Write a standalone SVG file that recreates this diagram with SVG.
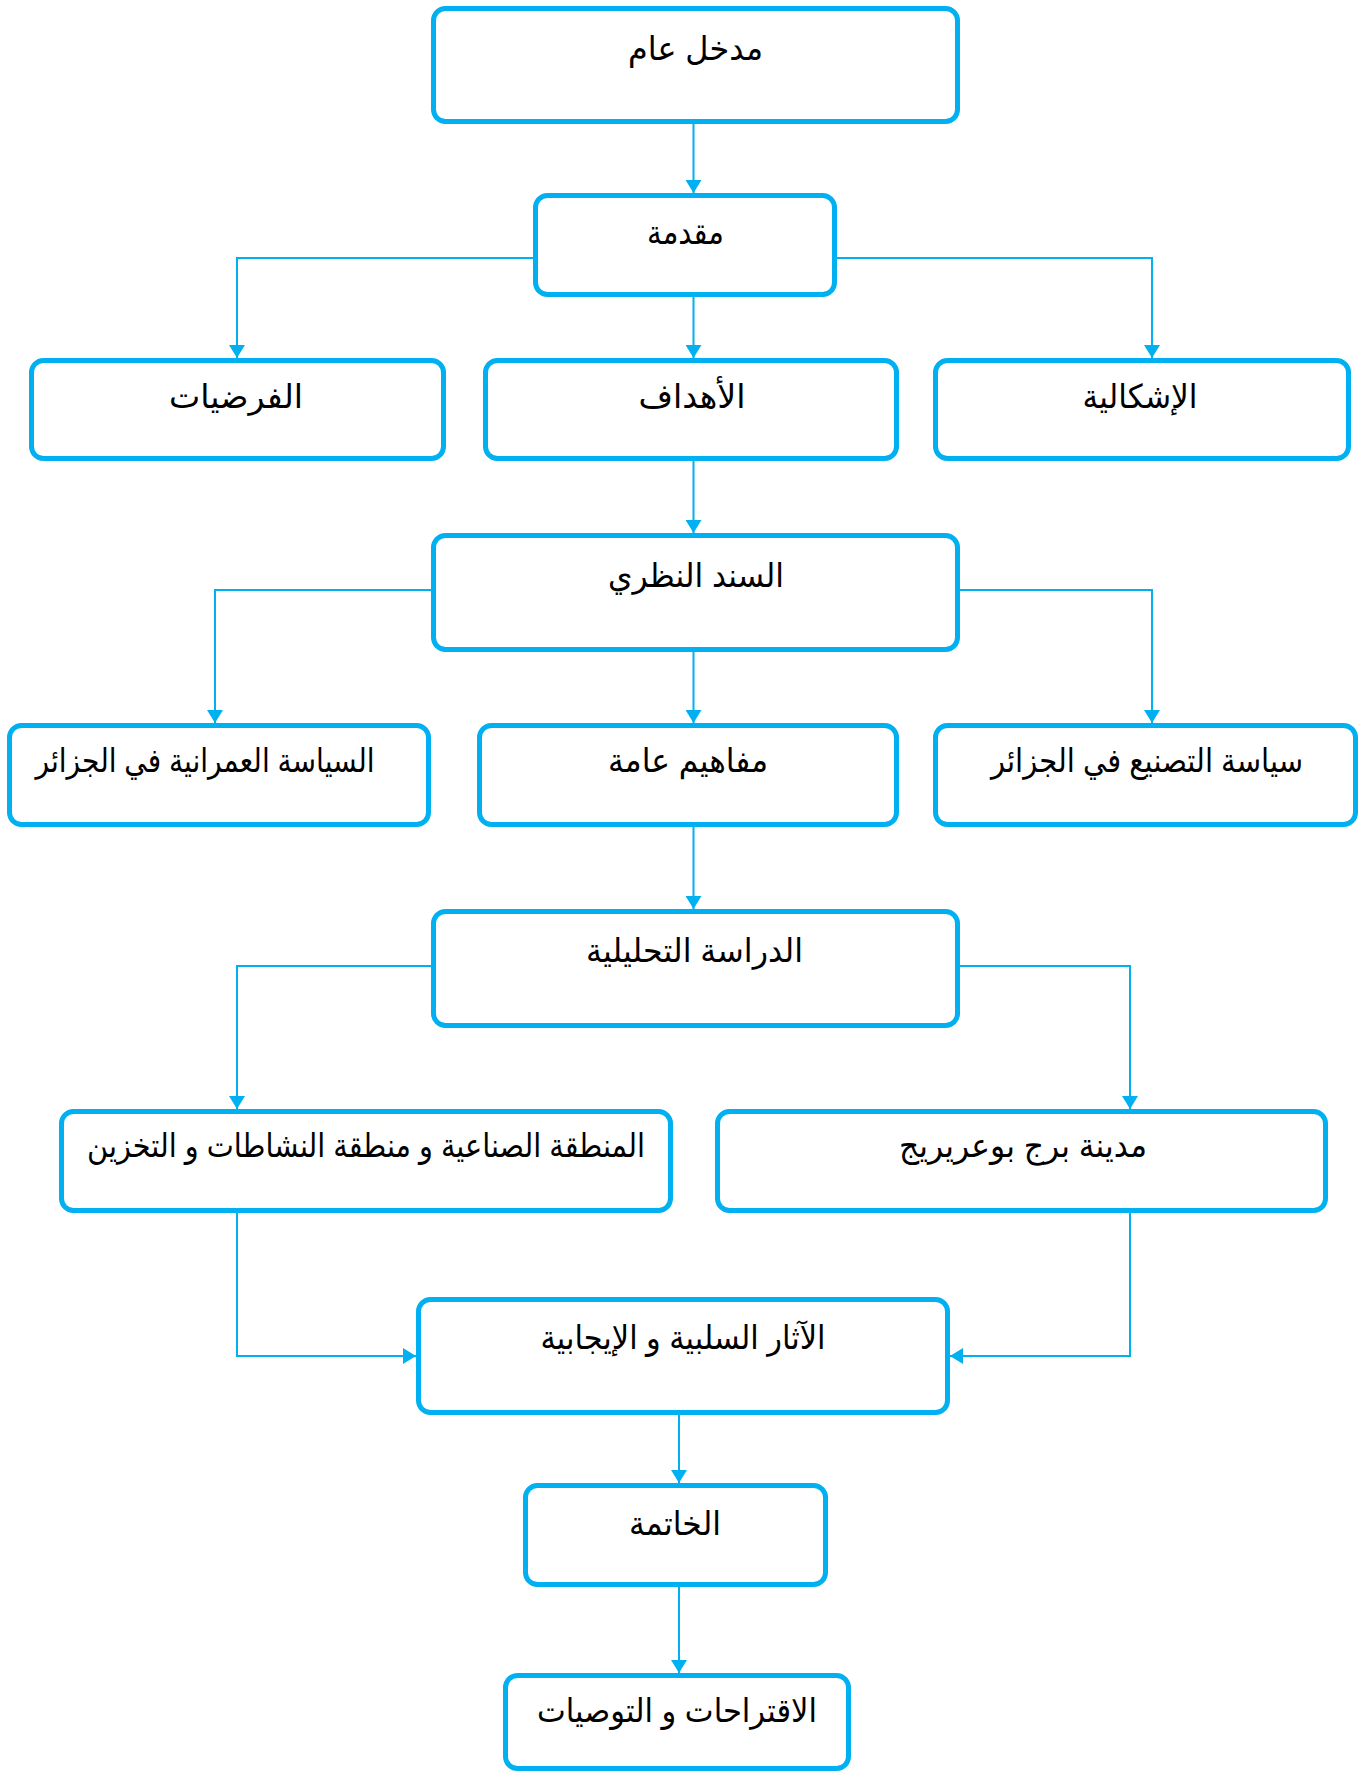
<svg xmlns="http://www.w3.org/2000/svg" width="1372" height="1771" viewBox="0 0 1372 1771">
<style>
.box{fill:#fff;stroke:#00B0F0;stroke-width:5}
.lbl{font-family:"Liberation Sans","DejaVu Sans",sans-serif;font-size:33px;fill:#000;text-anchor:middle;direction:rtl}
.con{fill:none;stroke:#00B0F0;stroke-width:2}
</style>
<defs>
<marker id="ah" markerUnits="userSpaceOnUse" markerWidth="14" markerHeight="16" refX="13" refY="8" orient="auto" viewBox="0 0 14 16">
<path d="M0,0 L13,8 L0,16 z" fill="#00B0F0"/>
</marker>
</defs>
<rect width="1372" height="1771" fill="#fff"/>
<g id="connectors">
<path class="con" d="M693.5,124 V193" marker-end="url(#ah)"/>
<path class="con" d="M533,258 H237 V358" marker-end="url(#ah)"/>
<path class="con" d="M837,258 H1152 V358" marker-end="url(#ah)"/>
<path class="con" d="M693.5,297 V358" marker-end="url(#ah)"/>
<path class="con" d="M693.5,461 V533" marker-end="url(#ah)"/>
<path class="con" d="M431,590 H215 V723" marker-end="url(#ah)"/>
<path class="con" d="M960,590 H1152 V723" marker-end="url(#ah)"/>
<path class="con" d="M693.5,652 V723" marker-end="url(#ah)"/>
<path class="con" d="M693.5,827 V909" marker-end="url(#ah)"/>
<path class="con" d="M431,966 H237 V1109" marker-end="url(#ah)"/>
<path class="con" d="M960,966 H1130 V1109" marker-end="url(#ah)"/>
<path class="con" d="M237,1213 V1356 H416" marker-end="url(#ah)"/>
<path class="con" d="M1130,1213 V1356 H950" marker-end="url(#ah)"/>
<path class="con" d="M679,1415 V1483" marker-end="url(#ah)"/>
<path class="con" d="M679,1587 V1673" marker-end="url(#ah)"/>
</g>
<g id="n1"><rect class="box" x="433.5" y="8.5" width="524" height="113" rx="12"/><text class="lbl" x="695.5" y="60" textLength="135" lengthAdjust="spacingAndGlyphs">مدخل عام</text></g>
<g id="n2"><rect class="box" x="535.5" y="195.5" width="299" height="99" rx="12"/><text class="lbl" x="685.5" y="244" textLength="77" lengthAdjust="spacingAndGlyphs">مقدمة</text></g>
<g id="n3"><rect class="box" x="31.5" y="360.5" width="412" height="98" rx="12"/><text class="lbl" x="236" y="408" textLength="134" lengthAdjust="spacingAndGlyphs">الفرضيات</text></g>
<g id="n4"><rect class="box" x="485.5" y="360.5" width="411" height="98" rx="12"/><text class="lbl" x="692" y="408" textLength="107" lengthAdjust="spacingAndGlyphs">الأهداف</text></g>
<g id="n5"><rect class="box" x="935.5" y="360.5" width="413" height="98" rx="12"/><text class="lbl" x="1140" y="408" textLength="115" lengthAdjust="spacingAndGlyphs">الإشكالية</text></g>
<g id="n6"><rect class="box" x="433.5" y="535.5" width="524" height="114" rx="12"/><text class="lbl" x="696" y="587" textLength="176" lengthAdjust="spacingAndGlyphs">السند النظري</text></g>
<g id="n7"><rect class="box" x="9.5" y="725.5" width="419" height="99" rx="12"/><text class="lbl" x="205" y="772" textLength="339" lengthAdjust="spacingAndGlyphs">السياسة العمرانية في الجزائر</text></g>
<g id="n8"><rect class="box" x="479.5" y="725.5" width="417" height="99" rx="12"/><text class="lbl" x="688" y="772" textLength="160" lengthAdjust="spacingAndGlyphs">مفاهيم عامة</text></g>
<g id="n9"><rect class="box" x="935.5" y="725.5" width="420" height="99" rx="12"/><text class="lbl" x="1147" y="772" textLength="312" lengthAdjust="spacingAndGlyphs">سياسة التصنيع في الجزائر</text></g>
<g id="n10"><rect class="box" x="433.5" y="911.5" width="524" height="114" rx="12"/><text class="lbl" x="694.5" y="962" textLength="217" lengthAdjust="spacingAndGlyphs">الدراسة التحليلية</text></g>
<g id="n11"><rect class="box" x="61.5" y="1111.5" width="609" height="99" rx="12"/><text class="lbl" x="366" y="1157" textLength="558" lengthAdjust="spacingAndGlyphs">المنطقة الصناعية و منطقة النشاطات و التخزين</text></g>
<g id="n12"><rect class="box" x="717.5" y="1111.5" width="608" height="99" rx="12"/><text class="lbl" x="1023" y="1157" textLength="248" lengthAdjust="spacingAndGlyphs">مدينة برج بوعريريج</text></g>
<g id="n13"><rect class="box" x="418.5" y="1299.5" width="529" height="113" rx="12"/><text class="lbl" x="683" y="1349" textLength="285" lengthAdjust="spacingAndGlyphs">الآثار السلبية و الإيجابية</text></g>
<g id="n14"><rect class="box" x="525.5" y="1485.5" width="300" height="99" rx="12"/><text class="lbl" x="675" y="1535" textLength="92" lengthAdjust="spacingAndGlyphs">الخاتمة</text></g>
<g id="n15"><rect class="box" x="505.5" y="1675.5" width="343" height="93" rx="12"/><text class="lbl" x="677" y="1722" textLength="280" lengthAdjust="spacingAndGlyphs">الاقتراحات و التوصيات</text></g>
</svg>
